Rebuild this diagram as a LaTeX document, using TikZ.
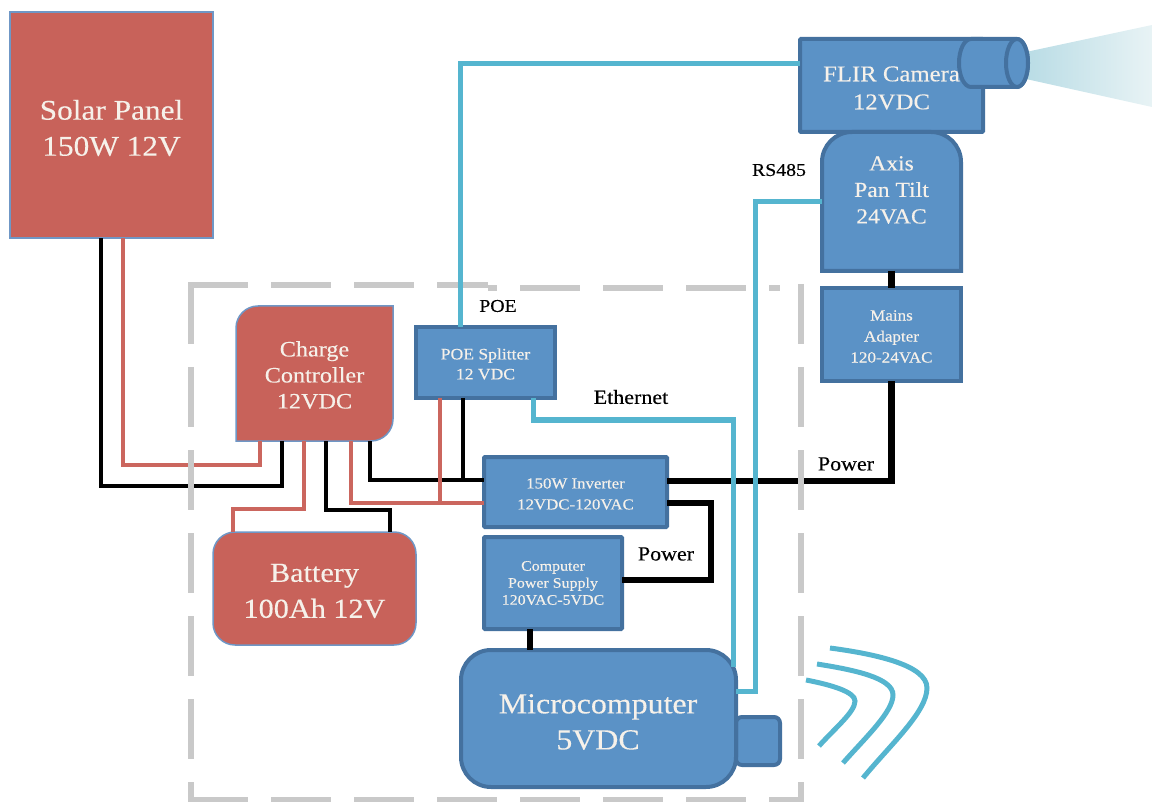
\documentclass[tikz,border=0pt]{standalone}
\usepackage{fontspec}
\setmainfont[FakeStretch=1.1, FakeBold=0.25]{Liberation Serif}
\usetikzlibrary{calc, positioning}
\definecolor{panelred}{HTML}{C8625A}
\definecolor{panelblue}{HTML}{5B92C6}
\definecolor{edgeblue}{HTML}{44719F}
\definecolor{edgepale}{HTML}{6F97C6}
\definecolor{wirecyan}{HTML}{55B5CF}
\definecolor{wirered}{HTML}{CB665E}
\definecolor{dashgrey}{HTML}{C9C9C9}
\definecolor{textwhite}{HTML}{F6F1EA}
\definecolor{beamleft}{HTML}{B9DCE5}
\definecolor{beamright}{HTML}{E8F3F5}
\begin{document}
\begin{tikzpicture}[x=1pt, y=-1pt,
  box/.style={inner sep=0pt, outer sep=0pt, align=center, text=textwhite},
  redbox/.style={box, fill=panelred, draw=edgepale, line width=1.5pt},
  bluebox/.style={box, fill=panelblue, draw=edgeblue, line width=4pt},
  wirelabel/.style={font=\fontsize{20}{24}\selectfont, text=black},
  blackline/.style={draw=black, line width=3.5pt},
  redline/.style={draw=wirered, line width=3.5pt},
  powerline/.style={draw=black, line width=6.5pt},
  dataline/.style={draw=wirecyan, line width=5pt},
  dashline/.style={draw=dashgrey, line width=6pt, dash pattern=on 60pt off 23pt}
]
\useasboundingbox (0,0) rectangle (1152,802);

% beam first, the lens sits on its narrow end
\shade[left color=beamleft, right color=beamright] (1026,52) -- (1152,25) -- (1152,107) -- (1026,79) -- cycle;

\node (solar) [redbox, minimum width=203pt, minimum height=226pt] at (111.5,125) {};
\node (solarlabel) [box, font=\fontsize{28.5}{36}\selectfont] at (111.5,128) {Solar Panel\\150W 12V};

% two corners only are rounded
\draw[fill=panelred, draw=edgepale, line width=1.5pt]
  (236,441) -- (236,328) arc[start angle=180, end angle=90, radius=22pt]
  -- (393,306) -- (393,419) arc[start angle=0, end angle=-90, radius=22pt] -- cycle;
\node (charge) [box, minimum width=157pt, minimum height=135pt] at (314.5,373.5) {};
\node (chargelabel) [box, font=\fontsize{22}{26}\selectfont] at (314.5,375) {Charge\\Controller\\12VDC};

\node (battery) [redbox, rounded corners=22pt, minimum width=203pt, minimum height=113pt] at (314.5,588.5) {};
\node (batterylabel) [box, font=\fontsize{27.5}{36}\selectfont] at (314.5,591) {Battery\\100Ah 12V};

\node (poe) [bluebox, minimum width=139pt, minimum height=71pt] at (485.5,362.5) {};
\node (poelabel) [box, font=\fontsize{16}{20}\selectfont] at (485.5,364) {POE Splitter\\12 VDC};
\node (inverter) [bluebox, rounded corners=1pt, minimum width=183pt, minimum height=70pt] at (575.5,492) {};
\node (inverterlabel) [box, font=\fontsize{15.3}{21}\selectfont] at (575.5,494) {150W Inverter\\12VDC-120VAC};
\node (supply) [bluebox, rounded corners=1pt, font=\fontsize{14.5}{17}\selectfont, minimum width=138pt, minimum height=92pt] at (553,583) {Computer\\Power Supply\\120VAC-5VDC};
\node (port) [bluebox, rounded corners=6pt, minimum width=44pt, minimum height=48pt] at (758,741) {};
\node (micro) [bluebox, rounded corners=30pt, minimum width=275pt, minimum height=137pt] at (598.5,718.5) {};
\node (microlabel) [box, font=\fontsize{29}{36}\selectfont] at (598,722) {Microcomputer\\5VDC};
\node (mains) [bluebox, minimum width=139pt, minimum height=93pt] at (891.5,334.5) {};
\node (mainslabel) [box, font=\fontsize{15.5}{21}\selectfont] at (891.5,336.5) {Mains\\Adapter\\120-24VAC};
\node (camera) [bluebox, rounded corners=1pt, minimum width=183pt, minimum height=93pt] at (891.5,85.5) {};

\draw[bluebox, rounded corners=30pt]
  (822,271) -- (822,132) -- (961,132) [sharp corners] -- (961,271) -- cycle;
\node (axis) [box, minimum width=139pt, minimum height=139pt] at (891.5,201.5) {};
\node (axislabel) [box, font=\fontsize{21.5}{26.5}\selectfont] at (891.5,190) {Axis\\Pan Tilt\\24VAC};

\draw[bluebox] (1017,39) -- (971,39) arc[start angle=90, end angle=270, x radius=12pt, y radius=24pt]
  -- (1017,87) arc[start angle=-90, end angle=90, x radius=11pt, y radius=24pt] -- cycle;
\draw[bluebox] (1017,63) ellipse[x radius=11pt, y radius=24pt];
\node (cameralabel) [box, font=\fontsize{22.5}{28}\selectfont] at (891.5,88) {FLIR Camera\\12VDC};

% wires from the panel and the controller
\draw[blackline] ([xshift=-10.5pt]solar.south) -- ++(0,248) -| ([xshift=-32.5pt]charge.south);
\draw[redline] ([xshift=11.5pt]solar.south) -- ++(0,227) -| ([xshift=-54.5pt]charge.south);
\draw[redline] ([xshift=-10.5pt]charge.south) -- ++(0,68) -| ([xshift=-81.5pt]battery.north);
\draw[blackline] ([xshift=11.5pt]charge.south) -- ++(0,69) -| ([xshift=75.5pt]battery.north);
\draw[redline] ([xshift=36.5pt]charge.south) |- ([yshift=-11pt]inverter.west);
\draw[blackline] ([xshift=55.5pt]charge.south) |- ([yshift=12pt]inverter.west);

\coordinate (redjoin) at (440,503);
\coordinate (blackjoin) at (463,480);
\draw[redline] ([xshift=-45.5pt]poe.south) -- (redjoin);
\draw[blackline] ([xshift=-22.5pt]poe.south) -- (blackjoin);

% mains side
\draw[powerline] ([yshift=11pt]inverter.east) -| (mains.south);
\draw[powerline] (axis.south) -- (mains.north);
\draw[powerline] ([yshift=-11pt]inverter.east) -- ++(44,0) |- ([yshift=3pt]supply.east);
\draw[powerline] ([xshift=-23pt]supply.south) -- ([xshift=-68.5pt]micro.north);

% enclosure, the top edge is drawn in two pieces
\draw[dashline] (191,284) -- (191,802);
\draw[dashline] (801,284) -- (801,802);
\draw[dashline] (188,285) -- (488,285);
\draw[dashline, dash phase=51pt] (488,288) -- (780,288);
\draw[dashline] (188,800) -- (804,800);

% data wires go over the power run
\draw[dataline] ([xshift=-25.5pt]poe.north) |- ([yshift=21.5pt]camera.west);
\draw[dataline] ([xshift=47.5pt]poe.south) -- ++(0,22) -| ([xshift=-3pt,yshift=-17pt]micro.north east);
\draw[dataline] ([yshift=27.5pt]micro.east) -- ++(19,0) |- (axis.west);

\node (poewire) [wirelabel, font=\fontsize{18}{22}\selectfont] at (498,306) {POE};
\node (ethernetwire) [wirelabel] at (631,397) {Ethernet};
\node (rswire) [wirelabel, font=\fontsize{18}{22}\selectfont] at (779,170) {RS485};
\node (powerwire) [wirelabel] at (846,464) {Power};
\node (supplywire) [wirelabel] at (666,554) {Power};

% radio waves off the microcomputer port
\draw[dataline] (806,680) .. controls (832,685) and (855,692) .. (855,701) .. controls (855,712) and (835,728) .. (819,746);
\draw[dataline] (817,664) .. controls (855,670) and (893,678) .. (893,695) .. controls (893,712) and (865,738) .. (843,763);
\draw[dataline] (830,648) .. controls (875,654) and (927,665) .. (927,688) .. controls (927,712) and (890,745) .. (863,778);
\end{tikzpicture}
\end{document}
